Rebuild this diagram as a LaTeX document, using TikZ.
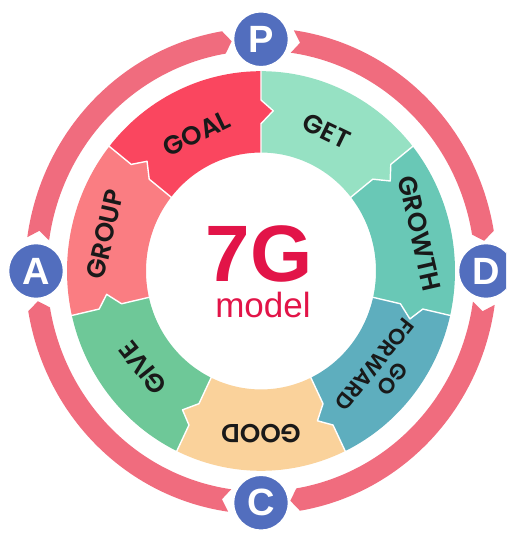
\documentclass[tikz,border=0pt]{standalone}
\usepackage{fontspec}
\setmainfont{Liberation Sans}
\newfontfamily\labfont{Poppins}[BoldFont={Poppins SemiBold}]
\definecolor{ringc}{RGB}{240,108,126}
\definecolor{letc}{RGB}{82,110,190}
\definecolor{goalc}{RGB}{250,70,95}
\definecolor{groupc}{RGB}{250,125,130}
\definecolor{getc}{RGB}{150,225,195}
\definecolor{growthc}{RGB}{105,200,182}
\definecolor{fwdc}{RGB}{94,174,190}
\definecolor{goodc}{RGB}{250,210,155}
\definecolor{givec}{RGB}{110,200,152}
\definecolor{redt}{RGB}{226,20,72}
\definecolor{labt}{RGB}{25,25,25}
\newcommand\wheelseg[3]{%
  \fill[#3] (#1:194) -- (#1:166) -- ({#1-4.5}:156) -- (#1:143) -- (#1:115)
    -- plot[domain=#1:#2, samples=40] (\x:115)
    -- (#2:143) -- ({#2-4.5}:156) -- (#2:166) -- (#2:194)
    -- plot[domain=#2:#1, samples=40] (\x:194) -- cycle;}
\newcommand\wheelsep[1]{%
  \draw[white, line width=1.4pt, line join=round] (#1:195) -- (#1:166) -- ({#1-4.5}:156) -- (#1:143) -- (#1:114);}
\newcommand\ringpiece[2]{% from letter angle #1 clockwise to #2
  \fill[ringc] ({#1-8}:236) -- plot[domain={#1-8}:{#2+9.5}, samples=60] (\x:236)
    -- ({#2+7.5}:225) -- ({#2+9.5}:214)
    -- plot[domain={#2+9.5}:{#1-8}, samples=60] (\x:214)
    -- ({#1-10}:225) -- cycle;}
\tikzset{
  lab/.style={text=labt, inner sep=0pt, font=\labfont\bfseries\fontsize{26}{26}\selectfont},
  letter/.style={circle, fill=letc, draw=white, line width=1.5pt, minimum size=55pt, inner sep=0pt,
    text=white, font=\bfseries\fontsize{38}{38}\selectfont},
}
\begin{document}
\begin{tikzpicture}[x=1pt,y=1.03pt]
\useasboundingbox (-261pt,-263pt) rectangle (245pt,271pt);
\clip (-261pt,-263pt) rectangle (245pt,271pt);
\fill[white] (-261pt,-263pt) rectangle (245pt,271pt);
% outer ring
\ringpiece{180}{90}
\ringpiece{90}{0}
\ringpiece{0}{-90}
\ringpiece{-90}{-180}
% wheel
\wheelseg{38.571}{90}{getc}
\wheelseg{90}{141.429}{goalc}
\wheelseg{141.429}{192.857}{groupc}
\wheelseg{192.857}{244.286}{givec}
\wheelseg{244.286}{295.714}{goodc}
\wheelseg{295.714}{347.143}{fwdc}
\wheelseg{347.143}{398.571}{growthc}
\foreach \a in {38.571,90,141.429,192.857,244.286,295.714,347.143} {\wheelsep{\a}}
% labels
\node[lab, rotate=-25.71] (get) at (64.29:151) {GET};
\node[lab, rotate=25.71] (goal) at (115.71:148) {GOAL};
\node[lab, rotate=77.14] (group) at (167.14:160) {GROUP};
\node[lab, rotate=128.57] (give) at (218.57:151) {GIVE};
\node[lab, rotate=180] (good) at (270:158) {GOOD};
\node[lab, rotate=231.43, align=center, font=\labfont\bfseries\fontsize{22}{23}\selectfont] (fwd) at (321.43:157) {GO\\FORWARD};
\node[lab, rotate=282.86] (growth) at (372.86:163) {GROWTH};
% centre
\node[text=redt, inner sep=0pt, anchor=base, font=\bfseries\fontsize{80}{80}\selectfont] (sevg) at (-2pt,-11pt) {7G};
\node[text=redt, inner sep=0pt, anchor=base, font=\fontsize{35}{35}\selectfont] (model) at (2pt,-47pt) {model};
% letters
\node[letter] (P) at (90:225) {P};
\node[letter] (D) at (0:225) {D};
\node[letter] (C) at (-90:225) {C};
\node[letter] (A) at (180:225) {A};
\end{tikzpicture}
\end{document}
